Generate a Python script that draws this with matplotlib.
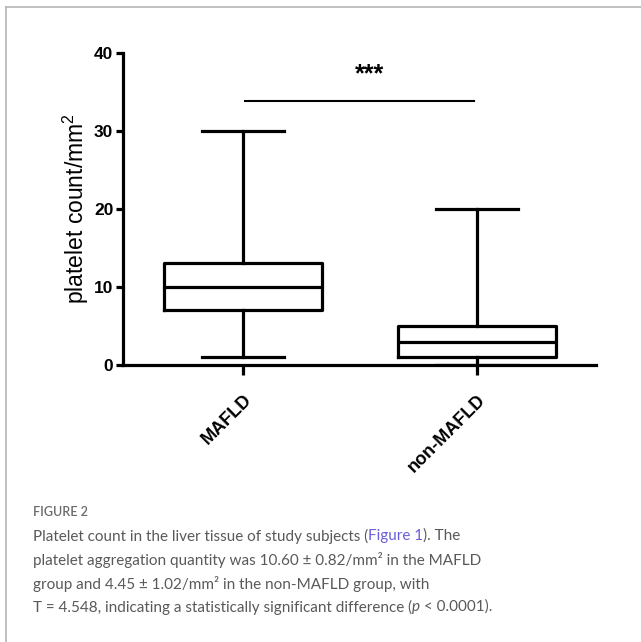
import matplotlib
matplotlib.use("Agg")
import matplotlib.pyplot as plt
from matplotlib.lines import Line2D

# data
groups = ["MAFLD", "non-MAFLD"]
whisker_low = [1, 0]
q1 = [7, 1]
median = [10, 3]
q3 = [13, 5]
whisker_high = [30, 20]
sig_y = 33.8
sig_label = "***"
y_ticks = [0, 10, 20, 30, 40]

plt.rcParams['mathtext.fontset'] = 'custom'
plt.rcParams['mathtext.rm'] = 'Liberation Sans'
plt.rcParams['mathtext.it'] = 'Liberation Sans:italic'

fig = plt.figure(figsize=(6.41, 6.42), dpi=100)
ax = fig.add_axes([0.192, 0.4315, 0.738, 0.4865])

stats = []
for i, g in enumerate(groups):
    stats.append(dict(label=g, whislo=whisker_low[i], q1=q1[i], med=median[i],
                      q3=q3[i], whishi=whisker_high[i], fliers=[]))

lw = 2.3
ax.bxp(stats, positions=[1, 2], widths=0.675, showfliers=False,
       boxprops=dict(linewidth=lw, color='black'),
       medianprops=dict(linewidth=lw, color='black'),
       whiskerprops=dict(linewidth=lw, color='black'),
       capprops=dict(linewidth=lw, color='black'),
       capwidths=0.35)

ax.set_xlim(0.487, 2.509)
ax.set_ylim(0, 40)
ax.set_yticks(y_ticks)
ax.set_xticks([1, 2])
ax.set_xticklabels(groups, rotation=45, ha='right', rotation_mode='anchor',
                   fontsize=13, fontweight='bold', family='Liberation Sans')
for lab in ax.get_yticklabels():
    lab.set_fontsize(12.5)
    lab.set_fontweight('bold')
    lab.set_family('Liberation Sans')

for s in ['top', 'right']:
    ax.spines[s].set_visible(False)
for s in ['left', 'bottom']:
    ax.spines[s].set_linewidth(2.3)
ax.tick_params(axis='y', length=5, width=2.3, pad=2)
ax.tick_params(axis='x', length=7, width=2.3, pad=12)

ax.set_ylabel("platelet count/mm$^2$", fontsize=16.5, family='Liberation Sans', labelpad=2)

# significance bar
ax.plot([1.01, 1.985], [sig_y, sig_y], color='black', lw=1.5, clip_on=False)
ax.text(1.54, sig_y + 3.4, sig_label, ha='center', va='center', fontsize=18,
        fontweight='bold', family='Liberation Sans')

# panel border (left and top)
fig.add_artist(Line2D([6 / 641, 6 / 641], [0, 1 - 7 / 642], transform=fig.transFigure,
                      color='#b5b5b5', lw=1.2))
fig.add_artist(Line2D([6 / 641, 1], [1 - 7 / 642, 1 - 7 / 642], transform=fig.transFigure,
                      color='#b5b5b5', lw=1.2))

# caption
grey = '#595959'
blue = '#6a5fd8'
cap_font = 'Lato'
cap_size = 11.0
x0 = 33 / 641
fig.text(x0, 1 - 512 / 642, "FIGURE 2", fontsize=9, color='#6a6a6a',
         family=cap_font, fontweight='semibold', va='center')

y1 = 1 - 536 / 642
t1 = fig.text(x0, y1, "Platelet count in the liver tissue of study subjects (",
              fontsize=cap_size, color=grey, family=cap_font, va='center')
t2 = fig.text(0, 0, "Figure 1", fontsize=cap_size, color=blue, family=cap_font,
              va='center')
t3 = fig.text(0, 0, "). The", fontsize=cap_size, color=grey, family=cap_font,
              va='center')
fig.canvas.draw()
r = fig.canvas.get_renderer()
bb1 = t1.get_window_extent(r)
t2.set_position((bb1.x1 / fig.bbox.width, y1))
bb2 = t2.get_window_extent(r)
t3.set_position((bb2.x1 / fig.bbox.width, y1))

lines = [
    "platelet aggregation quantity was 10.60 ± 0.82/mm² in the MAFLD",
    "group and 4.45 ± 1.02/mm² in the non-MAFLD group, with",
]
ys = [560, 584]
for ln, yy in zip(lines, ys):
    fig.text(x0, 1 - yy / 642, ln, fontsize=cap_size, color=grey, family=cap_font,
             va='center')

y4 = 1 - 607 / 642
t4 = fig.text(x0, y4, "T = 4.548, indicating a statistically significant difference (",
              fontsize=cap_size, color=grey, family=cap_font, va='center')
t5 = fig.text(0, 0, "p", fontsize=cap_size, color=grey, family=cap_font,
              style='italic', va='center')
t6 = fig.text(0, 0, " < 0.0001).", fontsize=cap_size, color=grey, family=cap_font,
              va='center')
fig.canvas.draw()
bb4 = t4.get_window_extent(r)
t5.set_position((bb4.x1 / fig.bbox.width, y4))
bb5 = t5.get_window_extent(r)
t6.set_position((bb5.x1 / fig.bbox.width, y4))

fig.savefig("out.png", dpi=100)
